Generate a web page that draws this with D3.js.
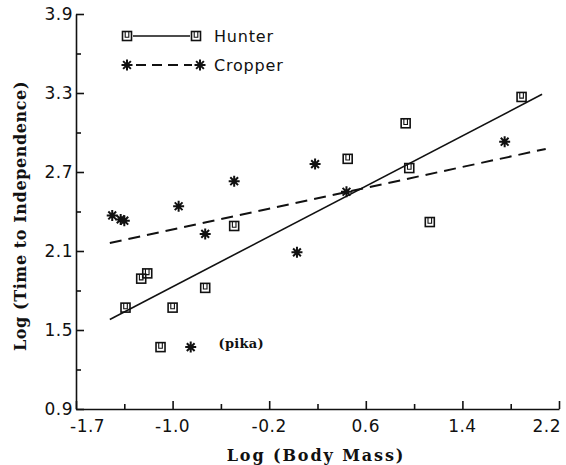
<!DOCTYPE html>
<html>
<head>
<meta charset="utf-8">
<script src="https://cdn.jsdelivr.net/npm/d3@7"></script>
<style>
  html, body { margin: 0; padding: 0; background: #fff; }
  svg { display: block; }
  .tick-label { font-family: "DejaVu Sans", sans-serif; font-size: 17px; fill: #111; letter-spacing: 0.5px; }
  .axis-title { font-family: "DejaVu Serif", serif; font-size: 16px; font-weight: bold; fill: #111; letter-spacing: 0.6px; }
  .x-title { letter-spacing: 1.9px; }
  .legend-text { font-family: "DejaVu Sans", sans-serif; font-size: 16px; fill: #111; letter-spacing: 0.8px; }
  .note { font-family: "DejaVu Serif", serif; font-size: 13px; font-weight: bold; fill: #111; letter-spacing: 0.3px; }
</style>
</head>
<body>
<div id="chart"></div>
<script>
// ---- data ----
const xTickValues = [-1.8, -1.0, -0.2, 0.6, 1.4, 2.2];
const xTickLabels = ["-1.7", "-1.0", "-0.2", "0.6", "1.4", "2.2"];
const xMinorTicks = [-1.4, -0.6, 0.2, 1.0, 1.8];
const yTickValues = [0.9, 1.5, 2.1, 2.7, 3.3, 3.9];
const yTickLabels = ["0.9", "1.5", "2.1", "2.7", "3.3", "3.9"];
const yMinorTicks = [1.2, 1.8, 2.4, 3.0, 3.6];

const hunterX = [-1.39, -1.26, -1.21, -1.10, -1.00, -0.73, -0.49, 0.45, 0.93, 0.96, 1.13, 1.89];
const hunterY = [1.67, 1.89, 1.93, 1.37, 1.67, 1.82, 2.29, 2.80, 3.07, 2.73, 2.32, 3.27];

const cropperX = [-1.50, -1.43, -1.40, -0.95, -0.85, -0.73, -0.49, 0.03, 0.18, 0.44, 1.75];
const cropperY = [2.37, 2.34, 2.33, 2.44, 1.37, 2.23, 2.63, 2.09, 2.76, 2.55, 2.93];

const hunterFitX = [-1.52, 2.06];
const hunterFitY = [1.58, 3.29];
const cropperFitX = [-1.52, 2.09];
const cropperFitY = [2.16, 2.875];

const seriesNames = ["Hunter", "Cropper"];
const noteText = "(pika)";
const noteX = -0.62, noteY = 1.39;

// ---- layout ----
const W = 566, H = 465;
const svg = d3.select("#chart").append("svg").attr("width", W).attr("height", H);
const x = d3.scaleLinear().domain([-1.8, 2.2]).range([76, 559]);
const y = d3.scaleLinear().domain([0.9, 3.9]).range([409, 14]);
const ink = "#111";

// axes
const xAxis = d3.axisBottom(x).tickValues(xTickValues).tickSizeInner(-8).tickSizeOuter(0).tickFormat("");
svg.append("g").attr("transform", `translate(0,${y(0.9)})`).call(xAxis);
const xMinor = d3.axisBottom(x).tickValues(xMinorTicks).tickSizeInner(-5).tickSizeOuter(0).tickFormat("");
const gxm = svg.append("g").attr("transform", `translate(0,${y(0.9)})`).call(xMinor);
gxm.select(".domain").remove();

const yAxis = d3.axisLeft(y).tickValues(yTickValues).tickSizeInner(-8).tickSizeOuter(0).tickFormat("");
svg.append("g").attr("transform", `translate(${x(-1.8)},0)`).call(yAxis);
const yMinor = d3.axisLeft(y).tickValues(yMinorTicks).tickSizeInner(-5).tickSizeOuter(0).tickFormat("");
const gym = svg.append("g").attr("transform", `translate(${x(-1.8)},0)`).call(yMinor);
gym.select(".domain").remove();

svg.selectAll(".domain, .tick line").attr("stroke", ink).attr("stroke-width", 1.6);

// tick labels
svg.append("g").selectAll("text").data(xTickValues).join("text")
  .attr("class", "tick-label")
  .attr("x", (d, i) => i === 0 ? x(d) - 6 : (i === xTickValues.length - 1 ? x(d) + 2 : x(d)))
  .attr("y", 432)
  .attr("text-anchor", (d, i) => i === 0 ? "start" : (i === xTickValues.length - 1 ? "end" : "middle"))
  .text((d, i) => xTickLabels[i]);

svg.append("g").selectAll("text").data(yTickValues).join("text")
  .attr("class", "tick-label")
  .attr("x", x(-1.8) - 3)
  .attr("y", d => y(d) + 6)
  .attr("text-anchor", "end")
  .text((d, i) => yTickLabels[i]);

// axis titles
svg.append("text").attr("class", "axis-title x-title")
  .attr("x", 316).attr("y", 461).attr("text-anchor", "middle")
  .text("Log (Body Mass)");
svg.append("text").attr("class", "axis-title")
  .attr("transform", `translate(26,${216}) rotate(-90)`)
  .attr("text-anchor", "middle")
  .text("Log (Time to Independence)");

// markers
function squareMarker(g, cx, cy) {
  const s = 4.5;
  g.append("rect").attr("x", cx - s).attr("y", cy - s).attr("width", 2 * s).attr("height", 2 * s)
    .attr("fill", "none").attr("stroke", ink).attr("stroke-width", 1.6);
  g.append("path").attr("d", `M${cx - 1.8},${cy - s}V${cy + 1.2}H${cx + 1.8}V${cy - s}`)
    .attr("fill", "none").attr("stroke", ink).attr("stroke-width", 1.1);
}
function starMarker(g, cx, cy) {
  const r = 5.5;
  let d = "";
  for (let k = 0; k < 4; k++) {
    const a = k * Math.PI / 4;
    const dx = r * Math.cos(a), dy = r * Math.sin(a);
    d += `M${cx - dx},${cy - dy}L${cx + dx},${cy + dy}`;
  }
  g.append("path").attr("d", d).attr("stroke", ink).attr("stroke-width", 2).attr("fill", "none");
}

// fit lines
const line = d3.line().x(d => x(d[0])).y(d => y(d[1]));
svg.append("path").datum(d3.zip(hunterFitX, hunterFitY)).attr("d", line)
  .attr("fill", "none").attr("stroke", ink).attr("stroke-width", 1.6);
svg.append("path").datum(d3.zip(cropperFitX, cropperFitY)).attr("d", line)
  .attr("fill", "none").attr("stroke", ink).attr("stroke-width", 2).attr("stroke-dasharray", "12,7");

// points
const pts = svg.append("g");
hunterX.forEach((v, i) => squareMarker(pts, x(v), y(hunterY[i])));
cropperX.forEach((v, i) => starMarker(pts, x(v), y(cropperY[i])));

// note
svg.append("text").attr("class", "note").attr("x", x(noteX)).attr("y", y(noteY) + 4).text(noteText);

// legend
const lg = svg.append("g");
squareMarker(lg, 127, 36);
squareMarker(lg, 196, 36);
lg.append("line").attr("x1", 133).attr("x2", 190).attr("y1", 36).attr("y2", 36).attr("stroke", ink).attr("stroke-width", 1.4);
lg.append("text").attr("class", "legend-text").attr("x", 214).attr("y", 42).text(seriesNames[0]);
starMarker(lg, 127, 65);
starMarker(lg, 200, 65);
lg.append("line").attr("x1", 136).attr("x2", 192).attr("y1", 65).attr("y2", 65).attr("stroke", ink).attr("stroke-width", 2).attr("stroke-dasharray", "10,6");
lg.append("text").attr("class", "legend-text").attr("x", 214).attr("y", 71).text(seriesNames[1]);
</script>
</body>
</html>
